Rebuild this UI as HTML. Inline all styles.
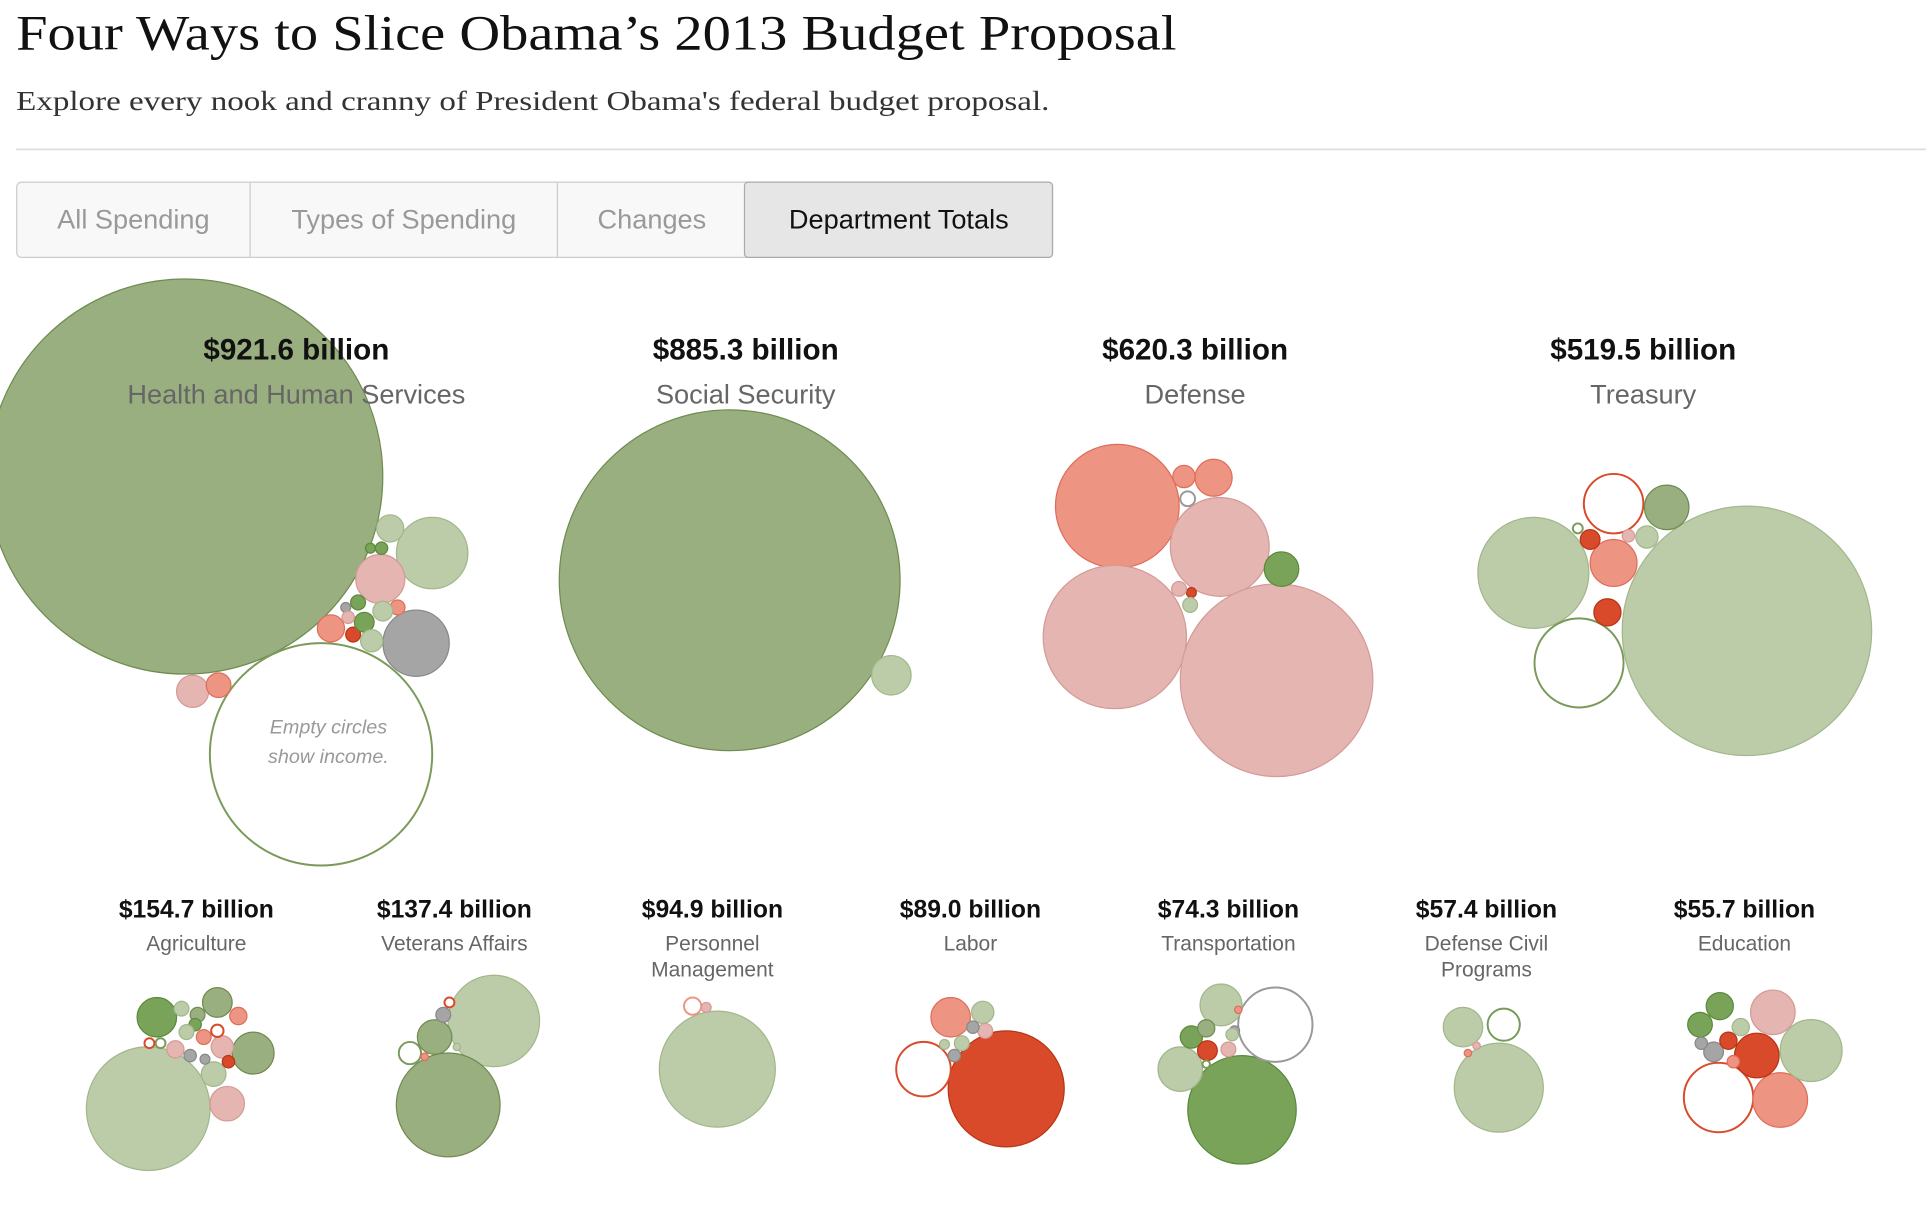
<!DOCTYPE html>
<html><head><meta charset="utf-8">
<style>
html,body{margin:0;padding:0;background:#fff;}
svg{display:block;}
.t{font-family:"Liberation Serif",serif;}
.s{font-family:"Liberation Sans",sans-serif;}
</style></head>
<body>
<svg id="chart" width="1926" height="1218" viewBox="0 0 1560 986.6" xmlns="http://www.w3.org/2000/svg">
<text class="t" x="13" y="40" font-size="40" fill="#111" textLength="940" lengthAdjust="spacingAndGlyphs">Four Ways to Slice Obama’s 2013 Budget Proposal</text>
<text class="t" x="13" y="89" font-size="22" fill="#333" textLength="837" lengthAdjust="spacingAndGlyphs">Explore every nook and cranny of President Obama's federal budget proposal.</text>
<line x1="13" y1="121" x2="1560" y2="121" stroke="#ddd" stroke-width="1.5"/>
<g>
<rect x="13.5" y="147.5" width="839" height="61" rx="4" fill="#f8f8f8" stroke="#ccc"/>
<rect x="603" y="147.5" width="249.5" height="61" rx="3" fill="#e6e6e6" stroke="#aaa"/>
<line x1="202.5" y1="148" x2="202.5" y2="208" stroke="#ccc"/>
<line x1="451.5" y1="148" x2="451.5" y2="208" stroke="#ccc"/>
<text class="s" x="108" y="185" font-size="22" fill="#999" text-anchor="middle">All Spending</text>
<text class="s" x="327" y="185" font-size="22" fill="#999" text-anchor="middle">Types of Spending</text>
<text class="s" x="528" y="185" font-size="22" fill="#999" text-anchor="middle">Changes</text>
<text class="s" x="728" y="185" font-size="22" fill="#111" text-anchor="middle">Department Totals</text>
</g>
<g id="bubbles"></g>
<g id="labels"></g>
</svg>
<script>
const deptNames = ["Health and Human Services","Social Security","Defense","Treasury","Agriculture","Veterans Affairs","Personnel|Management","Labor","Transportation","Defense Civil|Programs","Education"];
const deptTotals = [921.6,885.3,620.3,519.5,154.7,137.4,94.9,89.0,74.3,57.4,55.7];
const deptCenters = [240,604,968,1331,159,368,577,786,995,1204,1413];
// bubble entries: [type, value (billions), cx, cy]
const hhsBubbles = [["O",1102,150,386],["EG",349,260,611],["L",36,350,448],["P",17,308,469],["G",31,337,521],["L",5.2,316,428],["S",5.2,268,509],["R",1.55,286,514],["D",2.75,295,504],["L",3.5,301,519],["P",7.3,156,560],["S",4.3,177,555],["S",1.55,322,492],["L",2.75,310,495],["D",1.55,290,488],["D",0.69,300,444],["D",1.08,309,444],["G",0.69,280,492],["P",1.08,282,500]];
const ssBubbles = [["O",820,591,470],["L",11,722,547]];
const defBubbles = [["S",108,905,410],["P",69,988,443],["P",145,903,516],["P",262,1034,551],["D",8.4,1038,461],["S",9.7,983,387],["S",3.5,959,386],["EY",1.55,962,404],["R",0.69,965,480],["L",1.55,964,490],["P",1.55,955,477]];
const trBubbles = [["L",439,1415,511],["L",87,1242,464],["EG",56,1279,537],["ER",25,1307,408],["O",14,1350,411],["S",15.5,1307,456],["R",2.75,1288,437],["R",5.2,1302,496],["L",3.5,1334,435],["EG",0.69,1278,428],["P",1.08,1319,434]];
const agBubbles = [["L",108,120,898],["D",11,127,824],["O",6.2,176,812],["O",12.4,205,853],["P",8.4,184,894],["S",2.1,193,823],["L",1.55,147,817],["O",1.55,160,822],["P",3.5,180,848],["L",4.3,173,870],["S",1.55,165,840],["G",1.08,154,855],["ER",1.08,176,835],["EG",0.69,130,845],["ER",0.69,121,845],["P",2.1,142,850],["D",1.08,158,830],["G",0.69,166,858],["R",1.08,185,860],["L",1.55,151,836]];
const vaBubbles = [["L",59,400,827],["O",76,363,895],["O",8.4,352,840],["EG",3.5,332,853],["G",1.55,359,822],["ER",0.69,364,812],["S",0.39,344,856],["L",0.39,370,848]];
const pmBubbles = [["L",95,581,866],["ES",2.1,561,815],["P",0.69,572,816]];
const lbBubbles = [["R",95,815,882],["ER",21,748,866],["S",11,770,824],["L",3.5,796,820],["P",1.55,798,835],["G",1.08,788,832],["L",1.55,779,845],["G",1.08,773,855],["L",0.69,765,846]];
const tpBubbles = [["D",83,1006,899],["EY",39,1033,830],["L",12.4,989,814],["L",14,956,866],["D",3.5,965,840],["O",2.1,977,833],["R",2.75,978,851],["P",1.55,995,850],["S",0.39,1003,818],["G",0.69,1000,835],["L",1.08,998,838],["EG",0.39,977,862]];
const dcBubbles = [["L",56,1214,881],["L",11,1185,832],["EG",7.3,1218,830],["P",0.39,1196,847],["S",0.39,1189,853]];
const edBubbles = [["ER",34,1392,889],["S",21,1442,891],["R",14,1423,855],["L",27,1467,851],["P",14,1436,820],["D",5.2,1393,815],["D",4.3,1377,830],["G",2.75,1388,852],["R",2.1,1400,843],["L",2.1,1410,832],["S",1.08,1404,860],["G",1.08,1378,845]];
const allGroups = [hhsBubbles,ssBubbles,defBubbles,trBubbles,agBubbles,vaBubbles,pmBubbles,lbBubbles,tpBubbles,dcBubbles,edBubbles];
const groupNames = ["hhs","social-security","defense","treasury","agriculture","veterans-affairs","personnel-management","labor","transportation","defense-civil","education"];

const RK = 4.82;
function rScale(v){ return RK*Math.sqrt(v); }
const styles = {
  O:["#9aaf80","#6f8c50"], L:["#bccca8","#a2b78c"], D:["#7aa35a","#5a8a3a"],
  S:["#ee9482","#dd6e5a"], P:["#e5b5b2","#d49a96"], R:["#d94a2a","#b83515"],
  G:["#a5a5a5","#888"], EG:["#fff","#7a9a5a"], ER:["#fff","#d94a2a"],
  EY:["#fff","#999"], ES:["#fff","#ee9482"]
};
const NS="http://www.w3.org/2000/svg";
const bg=document.getElementById("bubbles");
allGroups.forEach((grp,gi)=>{
  const g=document.createElementNS(NS,"g");
  
  
  grp.forEach((b,bi)=>{
    const c=document.createElementNS(NS,"circle");
    c.setAttribute("cx",b[2]); c.setAttribute("cy",b[3]);
    c.setAttribute("r",rScale(b[1]));
    c.setAttribute("fill",styles[b[0]][0]);
    c.setAttribute("stroke",styles[b[0]][1]);
    c.setAttribute("stroke-width",b[0][0]==="E"?1.6:1);
    
    
    g.appendChild(c);
  });
  bg.appendChild(g);
});
const lg=document.getElementById("labels");
function txt(x,y,s,size,fill,weight,name){
  const t=document.createElementNS(NS,"text");
  t.setAttribute("x",x); t.setAttribute("y",y);
  t.setAttribute("font-size",size); t.setAttribute("fill",fill);
  t.setAttribute("font-weight",weight); t.setAttribute("text-anchor","middle");
  t.setAttribute("class","s");
  t.textContent=s;
  
  
  lg.appendChild(t);
}
deptNames.forEach((n,i)=>{
  const big=i<4, x=deptCenters[i];
  const amt="$"+deptTotals[i].toFixed(1)+" billion";
  if(big){
    txt(x,291,amt,24,"#111","bold",groupNames[i]+"-total");
    txt(x,327,n,22,"#666","normal",groupNames[i]+"-name");
  } else {
    txt(x,743,amt,20,"#111","bold",groupNames[i]+"-total");
    n.split("|").forEach((line,li)=>txt(x,770+li*21,line,17,"#666","normal",groupNames[i]+"-name-"+li));
  }
});
txt(266,594,"Empty circles",16,"#999","normal","income-note-line1");
txt(266,618,"show income.",16,"#999","normal","income-note-line2");
lg.lastChild.setAttribute("font-style","italic");
lg.lastChild.previousSibling.setAttribute("font-style","italic");
</script>
</body></html>
